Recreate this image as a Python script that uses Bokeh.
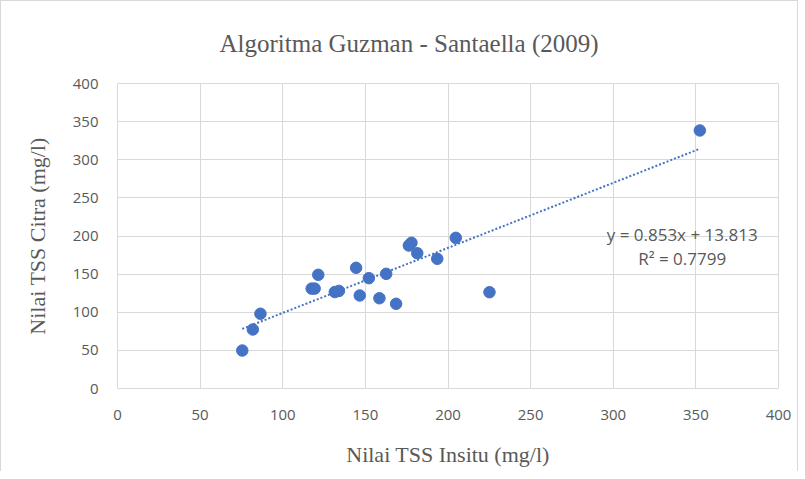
from bokeh.plotting import figure
from bokeh.models import Range1d, FixedTicker, ColumnDataSource
from bokeh.core.properties import value
from bokeh.embed import file_html
from bokeh.resources import INLINE

# ---- data ----
insitu = [75.5, 81.9, 86.5, 117.5, 119.3, 121.5, 131.5, 134.0, 144.4, 146.6,
          152.1, 158.5, 162.6, 168.6, 176.3, 177.9, 181.4, 193.5, 204.7, 225.1, 352.4]
citra = [49.8, 77.4, 98.0, 131.0, 131.0, 149.1, 126.5, 128.0, 158.3, 122.0,
         144.7, 118.4, 150.4, 111.1, 187.5, 191.1, 177.4, 170.1, 197.6, 126.3, 338.4]
slope = 0.853
intercept = 13.813
r2 = 0.7799
ticks = [0, 50, 100, 150, 200, 250, 300, 350, 400]

title_text = "Algoritma Guzman - Santaella (2009)"
x_label = "Nilai TSS Insitu (mg/l)"
y_label = "Nilai TSS Citra (mg/l)"

blue = "#4472C4"
gray_text = "#595959"
grid = "#d9d9d9"

p = figure(
    width=796, height=470,
    frame_width=661, frame_height=305,
    min_border_left=116, min_border_right=19,
    min_border_top=82, min_border_bottom=83,
    x_range=Range1d(0, 400), y_range=Range1d(0, 400),
    output_backend="svg", toolbar_location=None,
    title=title_text,
    styles={"border-top": "1px solid #d9d9d9",
            "border-left": "1px solid #d9d9d9",
            "border-right": "1px solid #d9d9d9"},
)
p.background_fill_color = "white"
p.border_fill_color = "white"
p.outline_line_color = grid

p.title.text_font = "Liberation Serif"
p.title.text_font_size = "25px"
p.title.text_font_style = "normal"
p.title.text_color = gray_text
p.title.align = "left"
p.title.vertical_align = "top"
p.title.offset = 102
p.title.standoff = 50

for ax in (p.xaxis[0], p.yaxis[0]):
    ax.ticker = FixedTicker(ticks=ticks)
    ax.axis_line_color = None
    ax.major_tick_line_color = None
    ax.minor_tick_line_color = None
    ax.major_tick_in = 0
    ax.major_tick_out = 0
    ax.major_label_text_font = "Open Sans"
    ax.major_label_text_font_size = "15px"
    ax.major_label_text_color = gray_text
    ax.axis_label_text_font = "Liberation Serif"
    ax.axis_label_text_font_size = "22px"
    ax.axis_label_text_font_style = "normal"
    ax.axis_label_text_color = gray_text

p.xaxis[0].axis_label = x_label
p.yaxis[0].axis_label = y_label
p.xaxis[0].major_label_standoff = 21
p.yaxis[0].major_label_standoff = 19
p.xaxis[0].axis_label_standoff = 19
p.yaxis[0].axis_label_standoff = 20

p.xgrid.ticker = FixedTicker(ticks=ticks)
p.ygrid.ticker = FixedTicker(ticks=ticks)
p.xgrid.grid_line_color = grid
p.ygrid.grid_line_color = grid

# trend line from the stated regression over the data range
x0, x1 = min(insitu), max(insitu)
trend = ColumnDataSource(dict(x=[x0, x1], y=[slope * x0 + intercept, slope * x1 + intercept]))
p.line("x", "y", source=trend, line_color=blue, line_width=2, line_dash="2 2")

src = ColumnDataSource(dict(x=insitu, y=citra))
p.scatter("x", "y", source=src, size=11.5, fill_color=blue, line_color=blue)

eq_src = ColumnDataSource(dict(
    x=[341.7, 341.7], y=[201.5, 171.0],
    t=[f"y = {slope}x + {intercept}", f"R² = {r2}"]))
p.text("x", "y", text="t", source=eq_src, text_font=value("Open Sans"),
       text_font_size="17px", text_color=gray_text,
       text_align="center", text_baseline="middle")

open("out.html", "w").write(file_html(p, INLINE))
